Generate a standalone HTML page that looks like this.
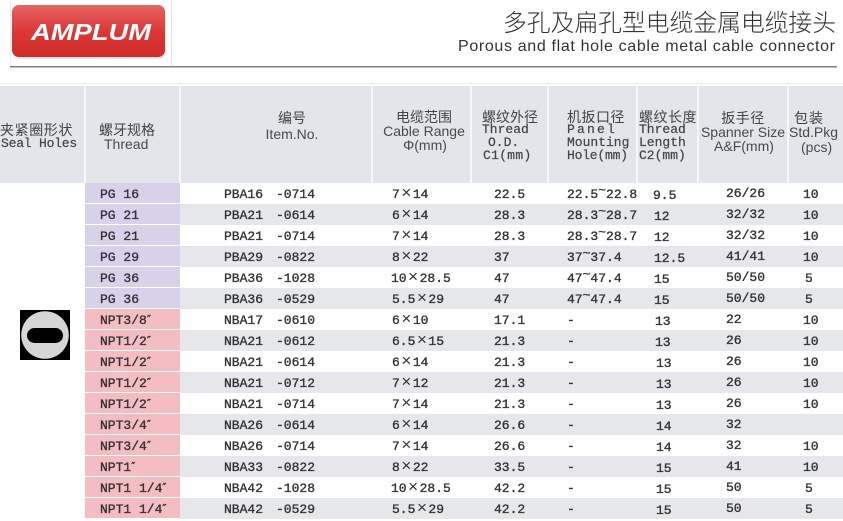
<!DOCTYPE html>
<html><head><meta charset="utf-8">
<style>
*{margin:0;padding:0;box-sizing:border-box}
body{width:843px;height:520px;overflow:hidden;background:#fff;position:relative;font-family:"Liberation Sans","Noto Sans CJK SC",sans-serif;color:#333}
.a{position:absolute;white-space:nowrap}
.hd{position:absolute;left:0;top:86px;width:843px;height:97px;background:#e2e5e9}
.sep{position:absolute;top:86px;height:97px;width:2px;background:#f6f7f8}
.cn{font-family:"Noto Sans CJK SC","WenQuanYi Zen Hei",sans-serif;font-size:14px;color:#444;line-height:16px;height:16px}
.sa{font-family:"Liberation Sans",sans-serif;font-size:14px;color:#4a4a4a;line-height:16px;height:16px}
.mo{font-family:"Liberation Mono","DejaVu Sans Mono",monospace;font-size:13px;color:#444;line-height:16px;height:16px;letter-spacing:0;-webkit-text-stroke:.2px #444}
.ctr{text-align:center;width:140px}
.r{position:absolute;left:0;width:843px;height:21px}
.bg{position:absolute;left:180px;right:0;top:0;height:21px;background:#e5e7eb}
.tp{position:absolute;left:85px;width:95px;top:0;height:20px;background:#d7d2e9}
.tn{position:absolute;left:85px;width:95px;top:0;height:20px;background:#f3bdc1}
.c{position:absolute;top:1px;line-height:21px;font-family:"Liberation Mono","DejaVu Sans Mono",monospace;font-size:13px;letter-spacing:0;color:#333;white-space:nowrap;-webkit-text-stroke:.35px #333}
.x{display:inline-block;width:13px;text-align:center;font-family:"Liberation Sans",sans-serif;font-size:17px;line-height:10px;letter-spacing:0;-webkit-text-stroke:0}
.t{position:relative;top:-4px}
.q{font-family:"DejaVu Sans",sans-serif;font-size:11px;position:relative;top:-1px}
</style></head><body>

<svg class="a" style="left:0;top:0" width="843" height="86" viewBox="0 0 843 86">
  <defs>
    <linearGradient id="lg" x1="0" y1="0" x2="0" y2="1">
      <stop offset="0" stop-color="#e86464"/>
      <stop offset="0.5" stop-color="#dc3838"/>
      <stop offset="1" stop-color="#d02a2a"/>
    </linearGradient>
  </defs>
  <line x1="10.5" y1="0" x2="10.5" y2="66" stroke="#ececec" stroke-width="1"/>
  <line x1="171.5" y1="0" x2="171.5" y2="66" stroke="#e4e4e4" stroke-width="1"/>
  <rect x="13" y="7" width="153" height="52" rx="7" fill="#c9c9c9" opacity="0.5"/>
  <rect x="12" y="5" width="153" height="52" rx="7" fill="url(#lg)"/>
  <text x="31" y="40" font-family="Liberation Sans" font-weight="bold" font-style="italic" font-size="23" fill="#fff" textLength="120" lengthAdjust="spacingAndGlyphs">AMPLUM</text>
  <text x="503" y="31" font-family="Noto Sans CJK SC, sans-serif" font-weight="300" font-size="24" fill="#333" textLength="333" lengthAdjust="spacingAndGlyphs">多孔及扁孔型电缆金属电缆接头</text>
  <text x="458" y="51" font-family="Liberation Sans, sans-serif" font-size="16" fill="#333" textLength="377" lengthAdjust="spacing">Porous and flat hole cable metal cable connector</text>
  <rect x="10" y="66" width="827" height="1.5" fill="#808080"/>
  <rect x="0" y="83" width="843" height="1" fill="#ebebeb"/>
</svg>

<div class="hd"></div>
<div class="sep" style="left:84px"></div>
<div class="sep" style="left:179px"></div>
<div class="sep" style="left:371px"></div>
<div class="sep" style="left:470px"></div>
<div class="sep" style="left:547px"></div>
<div class="sep" style="left:636px"></div>
<div class="sep" style="left:697px"></div>
<div class="sep" style="left:787px"></div>

<!-- header texts -->
<div class="a cn" style="left:0;top:122px;letter-spacing:.6px">夹紧圈形状</div>
<div class="a mo" style="left:1px;top:136px;letter-spacing:-.2px">Seal Holes</div>

<div class="a cn" style="left:99px;top:122px;letter-spacing:0">螺牙规格</div>
<div class="a sa" style="left:104px;top:136px">Thread</div>

<div class="a cn ctr" style="left:222px;top:110px">编号</div>
<div class="a sa ctr" style="left:222px;top:126px">Item.No.</div>

<div class="a cn ctr" style="left:354px;top:109px">电缆范围</div>
<div class="a sa ctr" style="left:354px;top:123px">Cable Range</div>
<div class="a sa ctr" style="left:355px;top:137px">Φ(mm)</div>

<div class="a cn" style="left:482px;top:109px">螺纹外径</div>
<div class="a mo" style="left:482px;top:122px">Thread</div>
<div class="a mo" style="left:488px;top:135px">O.D.</div>
<div class="a mo" style="left:483px;top:148px;letter-spacing:.3px">C1(mm)</div>

<div class="a cn" style="left:567px;top:109px;letter-spacing:.5px">机扳口径</div>
<div class="a mo" style="left:567px;top:122px;letter-spacing:2.2px">Panel</div>
<div class="a mo" style="left:567px;top:135px">Mounting</div>
<div class="a mo" style="left:567px;top:148px;letter-spacing:-.2px">Hole(mm)</div>

<div class="a cn" style="left:639px;top:109px;letter-spacing:.5px">螺纹长度</div>
<div class="a mo" style="left:639px;top:122px">Thread</div>
<div class="a mo" style="left:639px;top:135px">Length</div>
<div class="a mo" style="left:639px;top:148px">C2(mm)</div>

<div class="a cn ctr" style="left:673px;top:110px;letter-spacing:.5px">扳手径</div>
<div class="a sa ctr" style="left:673px;top:124px">Spanner Size</div>
<div class="a sa ctr" style="left:674px;top:138px">A&amp;F(mm)</div>

<div class="a cn" style="left:794px;top:110px;letter-spacing:1px">包装</div>
<div class="a sa" style="left:789px;top:124px">Std.Pkg</div>
<div class="a sa" style="left:801px;top:139px">(pcs)</div>

<!-- icon -->
<svg class="a" style="left:20px;top:310px" width="50" height="50" viewBox="0 0 50 50">
  <rect x="0" y="0" width="50" height="50" fill="#000"/>
  <circle cx="25" cy="25" r="23.8" fill="#d6d6d6"/>
  <rect x="7" y="18" width="36" height="15" rx="7.5" fill="#000"/>
</svg>

<!-- rows -->
<div class="r" style="top:183px"><div class="tp"></div>
<span class="c" style="left:100px">PG 16</span><span class="c" style="left:224px">PBA16</span><span class="c" style="left:276px">-0714</span><span class="c" style="left:392px">7<span class="x">×</span>14</span><span class="c" style="left:494px">22.5</span><span class="c" style="left:567px">22.5<span class="t">~</span>22.8</span><span class="c" style="left:653px;top:2px">9.5</span><span class="c" style="left:726px;top:0">26/26</span><span class="c" style="left:803px">10</span></div>

<div class="r" style="top:204px"><div class="bg"></div><div class="tp"></div>
<span class="c" style="left:100px">PG 21</span><span class="c" style="left:224px">PBA21</span><span class="c" style="left:276px">-0614</span><span class="c" style="left:392px">6<span class="x">×</span>14</span><span class="c" style="left:494px">28.3</span><span class="c" style="left:567px">28.3<span class="t">~</span>28.7</span><span class="c" style="left:654px;top:2px">12</span><span class="c" style="left:726px;top:0">32/32</span><span class="c" style="left:803px">10</span></div>

<div class="r" style="top:225px"><div class="tp"></div>
<span class="c" style="left:100px">PG 21</span><span class="c" style="left:224px">PBA21</span><span class="c" style="left:276px">-0714</span><span class="c" style="left:392px">7<span class="x">×</span>14</span><span class="c" style="left:494px">28.3</span><span class="c" style="left:567px">28.3<span class="t">~</span>28.7</span><span class="c" style="left:654px;top:2px">12</span><span class="c" style="left:726px;top:0">32/32</span><span class="c" style="left:803px">10</span></div>

<div class="r" style="top:246px"><div class="bg"></div><div class="tp"></div>
<span class="c" style="left:100px">PG 29</span><span class="c" style="left:224px">PBA29</span><span class="c" style="left:276px">-0822</span><span class="c" style="left:392px">8<span class="x">×</span>22</span><span class="c" style="left:494px">37</span><span class="c" style="left:567px">37<span class="t">~</span>37.4</span><span class="c" style="left:654px;top:2px">12.5</span><span class="c" style="left:726px;top:0">41/41</span><span class="c" style="left:803px">10</span></div>

<div class="r" style="top:267px"><div class="tp"></div>
<span class="c" style="left:100px">PG 36</span><span class="c" style="left:224px">PBA36</span><span class="c" style="left:276px">-1028</span><span class="c" style="left:391px">10<span class="x">×</span>28.5</span><span class="c" style="left:494px">47</span><span class="c" style="left:567px">47<span class="t">~</span>47.4</span><span class="c" style="left:654px;top:2px">15</span><span class="c" style="left:726px;top:0">50/50</span><span class="c" style="left:805px">5</span></div>

<div class="r" style="top:288px"><div class="bg"></div><div class="tp"></div>
<span class="c" style="left:100px">PG 36</span><span class="c" style="left:224px">PBA36</span><span class="c" style="left:276px">-0529</span><span class="c" style="left:392px">5.5<span class="x">×</span>29</span><span class="c" style="left:494px">47</span><span class="c" style="left:567px">47<span class="t">~</span>47.4</span><span class="c" style="left:654px;top:2px">15</span><span class="c" style="left:726px;top:0">50/50</span><span class="c" style="left:805px">5</span></div>

<div class="r" style="top:309px"><div class="tn"></div>
<span class="c" style="left:100px">NPT3/8<span class="q">″</span></span><span class="c" style="left:224px">NBA17</span><span class="c" style="left:276px">-0610</span><span class="c" style="left:392px">6<span class="x">×</span>10</span><span class="c" style="left:494px">17.1</span><span class="c" style="left:567px">-</span><span class="c" style="left:655px;top:2px">13</span><span class="c" style="left:726px;top:0">22</span><span class="c" style="left:803px">10</span></div>

<div class="r" style="top:330px"><div class="bg"></div><div class="tn"></div>
<span class="c" style="left:100px">NPT1/2<span class="q">″</span></span><span class="c" style="left:224px">NBA21</span><span class="c" style="left:276px">-0612</span><span class="c" style="left:392px">6.5<span class="x">×</span>15</span><span class="c" style="left:494px">21.3</span><span class="c" style="left:567px">-</span><span class="c" style="left:655px;top:2px">13</span><span class="c" style="left:726px;top:0">26</span><span class="c" style="left:803px">10</span></div>

<div class="r" style="top:351px"><div class="tn"></div>
<span class="c" style="left:100px">NPT1/2<span class="q">″</span></span><span class="c" style="left:224px">NBA21</span><span class="c" style="left:276px">-0614</span><span class="c" style="left:392px">6<span class="x">×</span>14</span><span class="c" style="left:494px">21.3</span><span class="c" style="left:567px">-</span><span class="c" style="left:656px;top:2px">13</span><span class="c" style="left:726px;top:0">26</span><span class="c" style="left:803px">10</span></div>

<div class="r" style="top:372px"><div class="bg"></div><div class="tn"></div>
<span class="c" style="left:100px">NPT1/2<span class="q">″</span></span><span class="c" style="left:224px">NBA21</span><span class="c" style="left:276px">-0712</span><span class="c" style="left:392px">7<span class="x">×</span>12</span><span class="c" style="left:494px">21.3</span><span class="c" style="left:567px">-</span><span class="c" style="left:656px;top:2px">13</span><span class="c" style="left:726px;top:0">26</span><span class="c" style="left:803px">10</span></div>

<div class="r" style="top:393px"><div class="tn"></div>
<span class="c" style="left:100px">NPT1/2<span class="q">″</span></span><span class="c" style="left:224px">NBA21</span><span class="c" style="left:276px">-0714</span><span class="c" style="left:392px">7<span class="x">×</span>14</span><span class="c" style="left:494px">21.3</span><span class="c" style="left:567px">-</span><span class="c" style="left:656px;top:2px">13</span><span class="c" style="left:726px;top:0">26</span><span class="c" style="left:803px">10</span></div>

<div class="r" style="top:414px"><div class="bg"></div><div class="tn"></div>
<span class="c" style="left:100px">NPT3/4<span class="q">″</span></span><span class="c" style="left:224px">NBA26</span><span class="c" style="left:276px">-0614</span><span class="c" style="left:392px">6<span class="x">×</span>14</span><span class="c" style="left:494px">26.6</span><span class="c" style="left:567px">-</span><span class="c" style="left:656px;top:2px">14</span><span class="c" style="left:726px;top:0">32</span></div>

<div class="r" style="top:435px"><div class="tn"></div>
<span class="c" style="left:100px">NPT3/4<span class="q">″</span></span><span class="c" style="left:224px">NBA26</span><span class="c" style="left:276px">-0714</span><span class="c" style="left:392px">7<span class="x">×</span>14</span><span class="c" style="left:494px">26.6</span><span class="c" style="left:567px">-</span><span class="c" style="left:656px;top:2px">14</span><span class="c" style="left:726px;top:0">32</span><span class="c" style="left:803px">10</span></div>

<div class="r" style="top:456px"><div class="bg"></div><div class="tn"></div>
<span class="c" style="left:100px">NPT1<span class="q">″</span></span><span class="c" style="left:224px">NBA33</span><span class="c" style="left:276px">-0822</span><span class="c" style="left:392px">8<span class="x">×</span>22</span><span class="c" style="left:494px">33.5</span><span class="c" style="left:567px">-</span><span class="c" style="left:656px;top:2px">15</span><span class="c" style="left:726px;top:0">41</span><span class="c" style="left:803px">10</span></div>

<div class="r" style="top:477px"><div class="tn"></div>
<span class="c" style="left:100px">NPT1 1/4<span class="q">″</span></span><span class="c" style="left:224px">NBA42</span><span class="c" style="left:276px">-1028</span><span class="c" style="left:391px">10<span class="x">×</span>28.5</span><span class="c" style="left:494px">42.2</span><span class="c" style="left:567px">-</span><span class="c" style="left:656px;top:2px">15</span><span class="c" style="left:726px;top:0">50</span><span class="c" style="left:805px">5</span></div>

<div class="r" style="top:498px"><div class="bg"></div><div class="tn"></div>
<span class="c" style="left:100px">NPT1 1/4<span class="q">″</span></span><span class="c" style="left:224px">NBA42</span><span class="c" style="left:276px">-0529</span><span class="c" style="left:392px">5.5<span class="x">×</span>29</span><span class="c" style="left:494px">42.2</span><span class="c" style="left:567px">-</span><span class="c" style="left:656px;top:2px">15</span><span class="c" style="left:726px;top:0">50</span><span class="c" style="left:805px">5</span></div>

</body></html>
